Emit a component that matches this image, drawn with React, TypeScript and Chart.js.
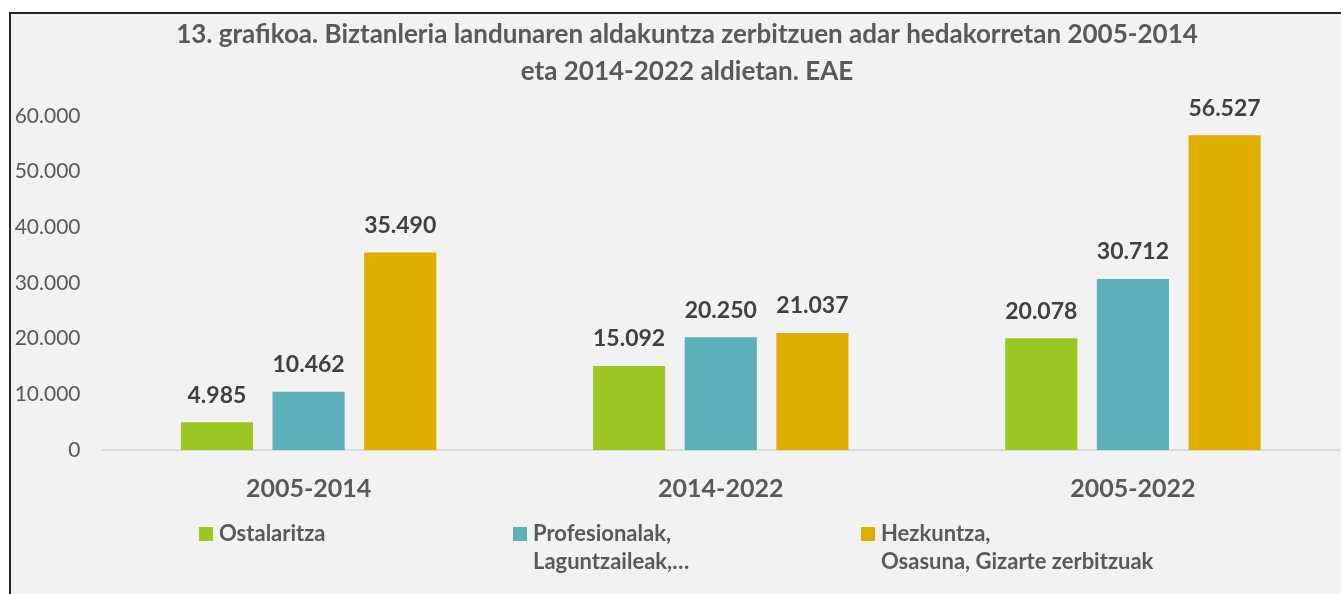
import React, { useEffect, useRef } from "react";
import { Chart, registerables } from "chart.js";

Chart.register(...registerables);

const titleLines = [
  "13. grafikoa. Biztanleria landunaren aldakuntza zerbitzuen adar hedakorretan 2005-2014",
  "eta 2014-2022 aldietan. EAE",
];
const categories = ["2005-2014", "2014-2022", "2005-2022"];
const seriesLabels = [
  ["Ostalaritza"],
  ["Profesionalak,", "Laguntzaileak,…"],
  ["Hezkuntza,", "Osasuna, Gizarte zerbitzuak"],
];
const ostalaritza = [4985, 15092, 20078];
const profesionalak = [10462, 20250, 30712];
const hezkuntza = [35490, 21037, 56527];
const seriesColors = ["#9BC823", "#5BB0B9", "#DEAE00"];
const yMin = 0;
const yMax = 60000;
const yStep = 10000;

const FONT = "Lato, 'Open Sans', sans-serif";

function fmt(v: number): string {
  const s = Math.round(v).toString();
  return s.replace(/\B(?=(\d{3})+(?!\d))/g, ".");
}

const CW = 1350;
const CH = 600;

const customDraw = {
  id: "customDraw",
  afterDatasetsDraw(chart: any) {
    const ctx = chart.ctx;
    ctx.save();
    ctx.font = `bold 23px ${FONT}`;
    ctx.fillStyle = "#404040";
    ctx.textAlign = "center";
    ctx.textBaseline = "middle";
    chart.data.datasets.forEach((ds: any, i: number) => {
      const meta = chart.getDatasetMeta(i);
      meta.data.forEach((bar: any, j: number) => {
        ctx.fillText(fmt(ds.data[j]), bar.x, bar.y - 27);
      });
    });
    ctx.restore();
  },
  afterDraw(chart: any) {
    const ctx = chart.ctx;
    ctx.save();
    ctx.font = `bold 26px ${FONT}`;
    ctx.fillStyle = "#595959";
    ctx.textAlign = "center";
    ctx.textBaseline = "middle";
    const tx = 676;
    ctx.fillText(titleLines[0], tx, 21);
    ctx.fillText(titleLines[1], tx, 58);
    const sqX = [188, 502, 850];
    ctx.font = `bold 22px ${FONT}`;
    ctx.textAlign = "left";
    chart.data.datasets.forEach((ds: any, i: number) => {
      ctx.fillStyle = ds.backgroundColor;
      ctx.fillRect(sqX[i], 513, 14, 14);
      ctx.fillStyle = "#595959";
      seriesLabels[i].forEach((line, k) => {
        ctx.fillText(line, sqX[i] + 20, 520 + k * 28);
      });
    });
    ctx.restore();
  },
};

export default function App() {
  const ref = useRef<HTMLCanvasElement | null>(null);
  useEffect(() => {
    if (!ref.current) return;
    const chart = new Chart(ref.current, {
      type: "bar",
      data: {
        labels: categories,
        datasets: [
          { label: seriesLabels[0].join(" "), data: ostalaritza, backgroundColor: seriesColors[0] },
          { label: seriesLabels[1].join(" "), data: profesionalak, backgroundColor: seriesColors[1] },
          { label: seriesLabels[2].join(" "), data: hezkuntza, backgroundColor: seriesColors[2] },
        ],
      },
      options: {
        animation: false,
        responsive: false,
        devicePixelRatio: 1,
        layout: { padding: { top: 102, bottom: 104, left: 0, right: 22 } },
        datasets: { bar: { barPercentage: 0.787, categoryPercentage: 0.667 } } as any,
        plugins: {
          legend: { display: false },
          title: { display: false },
          tooltip: { enabled: false },
        },
        scales: {
          x: {
            grid: { display: false, drawTicks: false },
            border: { display: true, color: "#D9D9D9", width: 2 },
            ticks: {
              color: "#595959",
              font: { family: FONT, size: 25, weight: "bold" },
              padding: 24,
            },
            afterFit(scale: any) {
              scale.height = 60;
            },
          },
          y: {
            min: yMin,
            max: yMax,
            grid: { display: false, drawTicks: false },
            border: { display: false },
            ticks: {
              stepSize: yStep,
              color: "#595959",
              font: { family: FONT, size: 21 },
              padding: 22,
              callback: (v: any) => fmt(Number(v)),
            },
            afterFit(scale: any) {
              scale.width = 91.5;
            },
          },
        },
      },
      plugins: [customDraw],
    });
    return () => chart.destroy();
  }, []);

  return (
    <div
      style={{
        position: "fixed",
        left: 0,
        top: 0,
        width: 1341,
        height: 594,
        overflow: "hidden",
        background: "#ffffff",
      }}
    >
      <div
        style={{
          position: "absolute",
          left: 9,
          top: 12,
          width: CW,
          height: CH,
          border: "2px solid #262626",
          background: "#F2F2F2",
        }}
      >
        <canvas ref={ref} width={CW} height={CH} style={{ display: "block", width: CW, height: CH }} />
      </div>
    </div>
  );
}
